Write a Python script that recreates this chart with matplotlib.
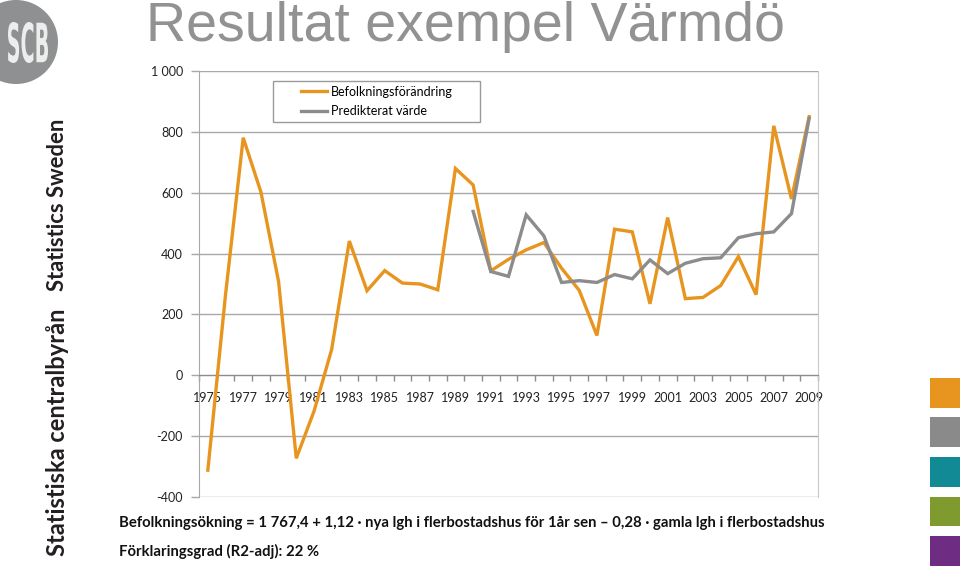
import numpy as np
import matplotlib
matplotlib.use("Agg")
import matplotlib.pyplot as plt
from matplotlib.patches import Rectangle, Ellipse, PathPatch
from matplotlib.textpath import TextPath
from matplotlib.font_manager import FontProperties
from matplotlib.transforms import Affine2D, IdentityTransform

# ---------------- data ----------------
years = list(range(1975, 2010))
befolkning = [-311, 265, 780, 602, 308, -272, -118, 85, 441, 278,
              344, 303, 300, 281, 679, 625, 343, 381, 412, 436,
              352, 279, 131, 480, 471, 235, 518, 252, 256, 295,
              390, 265, 819, 579, 849]
pred_years = list(range(1990, 2010))
predikterat = [538, 341, 325, 527, 458, 305, 311, 305, 331, 317,
               379, 334, 368, 383, 386, 452, 465, 471, 531, 844]
y_ticks = [-400, -200, 0, 200, 400, 600, 800, 1000]
y_ticklabels = ["-400", "-200", "0", "200", "400", "600", "800", "1 000"]
x_label_years = list(range(1975, 2010, 2))
series_names = ["Befolkningsförändring", "Predikterat värde"]
title = "Resultat exempel Värmdö"
formula = ("Befolkningsökning = 1 767,4 + 1,12 · nya lgh i flerbostadshus "
           "för 1år sen – 0,28 · gamla lgh i flerbostadshus")
r2_text = "Förklaringsgrad (R2-adj): 22 %"
brand_top = "Statistics Sweden"
brand_bottom = "Statistiska centralbyrån"
palette = ["#E8951F", "#8A8A8A", "#128A96", "#7F9A2E", "#6E2D82"]

W, H = 960, 566
DPI = 100
fig = plt.figure(figsize=(W / DPI, H / DPI), dpi=DPI)
fig.patch.set_facecolor("white")

TXT = ["Lato", "DejaVu Sans"]
ORANGE = "#E8951F"
GRAY = "#8C8C8C"
GRID = "#A8A8A8"

def fx(px):
    return px / W

def fy(py):
    return 1 - py / H

# ---------------- axes ----------------
left, right, top, bottom = 199, 818, 70.7, 497.3
ax = fig.add_axes([fx(left), fy(bottom), fx(right - left), (bottom - top) / H])
ax.set_xlim(1974.5, 2009.5)
ax.set_ylim(-400, 1000)

for yv in y_ticks:
    ax.axhline(yv, color=GRID, lw=1.0, zorder=1)

ax.plot(years, befolkning, color=ORANGE, lw=2.4, solid_joinstyle="miter",
        label=series_names[0], zorder=3)
ax.plot(pred_years, predikterat, color=GRAY, lw=2.4, solid_joinstyle="miter",
        label=series_names[1], zorder=4)

ax.spines["top"].set_visible(False)
ax.spines["right"].set_color("#C8C8C8")
ax.spines["left"].set_color(GRID)
ax.spines["bottom"].set_color("#8C8C8C")
ax.spines["bottom"].set_position(("data", 0))

ax.set_yticks(y_ticks)
ax.set_yticklabels(y_ticklabels)
ax.tick_params(axis="y", direction="out", length=6, width=1, color=GRID,
               pad=5.5, labelsize=9, labelcolor="#222222")

ax.set_xticks(x_label_years)
ax.set_xticklabels([str(y) for y in x_label_years])
ax.set_xticks(np.arange(1974.5, 2010, 1.0), minor=True)
ax.tick_params(axis="x", which="major", length=0, pad=12, labelsize=9,
               labelcolor="#222222")
ax.tick_params(axis="x", which="minor", direction="out", length=4, width=1,
               color="#8C8C8C")
for lab in ax.get_xticklabels() + ax.get_yticklabels():
    lab.set_family(TXT)

# legend: entries without frame, frame drawn as a rectangle
leg = ax.legend(loc="upper left", bbox_to_anchor=(fx(301), fy(85.5)),
                bbox_transform=fig.transFigure, borderaxespad=0,
                frameon=False, prop={"family": TXT, "size": 9},
                handlelength=2.1, handletextpad=0.3, labelspacing=0.6,
                borderpad=0)
fig.patches.append(Rectangle((fx(272.5), fy(122)), fx(480 - 272.5), (122 - 81.3) / H,
                             transform=fig.transFigure, facecolor="none",
                             edgecolor="#9A9A9A", lw=1.0, zorder=5))

# ---------------- title & texts ----------------
fig.text(fx(146), fy(41), title, family=["Liberation Sans", "DejaVu Sans"],
         fontsize=40, color="#929292", ha="left", va="baseline")

fig.text(fx(119), fy(527), formula, family=TXT, fontweight="bold",
         fontsize=10.7, color="#111111", ha="left", va="baseline")
fig.text(fx(119), fy(556), r2_text, family=TXT, fontweight="bold",
         fontsize=10.7, color="#111111", ha="left", va="baseline")

fig.text(fx(57.5), fy(205), brand_top, family=TXT, fontweight="bold",
         fontsize=15.8, color="#231F20", rotation=90, ha="center", va="center")
fig.text(fx(57.5), fy(432), brand_bottom, family=TXT, fontweight="bold",
         fontsize=17.0, color="#231F20", rotation=90, ha="center", va="center")

# ---------------- logo ----------------
fig.patches.append(Ellipse((fx(16), fy(42)), 84 / W, 84 / H,
                           transform=fig.transFigure, facecolor="#8F9091",
                           edgecolor="none", zorder=0))
fp = FontProperties(family=["DejaVu Sans"], weight="bold")
tp = TextPath((0, 0), "SCB", size=1, prop=fp)
ext = tp.get_extents()
bx0, bx1, by0, by1 = 8, 48, 566 - 63, 566 - 22
sx = (bx1 - bx0) / ext.width
sy = (by1 - by0) / ext.height
tr = Affine2D().translate(-ext.x0, -ext.y0).scale(sx, sy).translate(bx0, by0)
fig.patches.append(PathPatch(tr.transform_path(tp), transform=IdentityTransform(),
                             facecolor="#EDEDED", edgecolor="none", zorder=1))

# ---------------- colour squares ----------------
for c, (y0, y1) in zip(palette, [(378, 408), (417, 447), (457, 487),
                                 (497, 526), (536, 566)]):
    fig.patches.append(Rectangle((fx(930), fy(y1)), fx(30), (y1 - y0) / H,
                                 transform=fig.transFigure, facecolor=c,
                                 edgecolor="none"))

fig.savefig("out.png", dpi=DPI, facecolor="white")
